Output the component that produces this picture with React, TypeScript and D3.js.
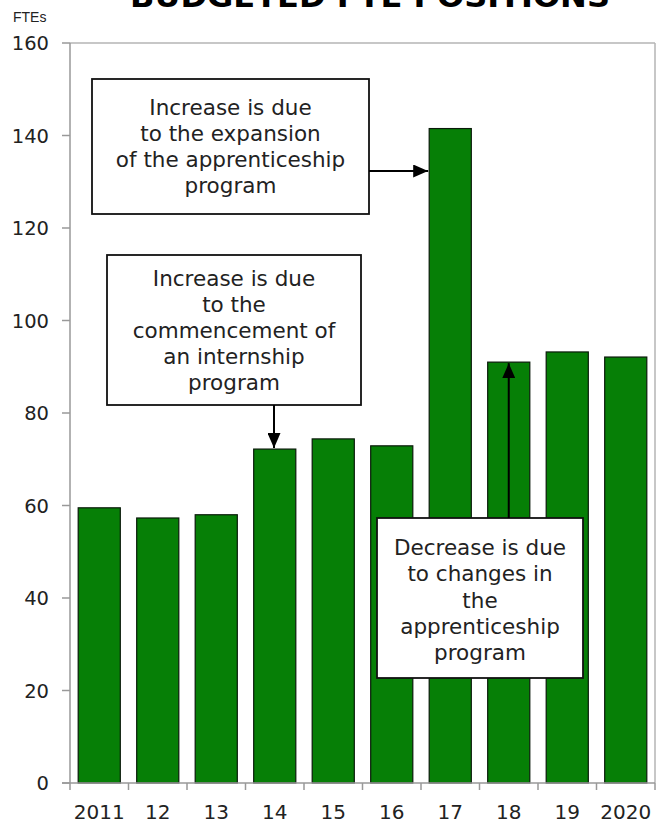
import React from "react";
import * as d3 from "d3";

const categories = ["2011", "12", "13", "14", "15", "16", "17", "18", "19", "2020"];
const ftes = [59.5, 57.3, 58, 72.2, 74.4, 72.9, 141.5, 91, 93.2, 92.1];
const yTicks = [0, 20, 40, 60, 80, 100, 120, 140, 160];

const note1 = ["Increase is due", "to the expansion", "of the apprenticeship", "program"];
const note2 = ["Increase is due", "to the", "commencement of", "an internship", "program"];
const note3 = ["Decrease is due", "to changes in", "the", "apprenticeship", "program"];

const W = 663;
const H = 823;
const M = { left: 70, right: 655, top: 43, bottom: 783 };
const FONT = "'DejaVu Sans', Verdana, sans-serif";

export default function App() {
  const x = d3.scaleBand<string>().domain(categories).range([M.left, M.right]).paddingInner(0.28).paddingOuter(0.14);
  const y = d3.scaleLinear().domain([0, 160]).range([M.bottom, M.top]);
  const boundaries = d3.range(categories.length + 1).map((i) => M.left + i * ((M.right - M.left) / categories.length));

  const box = (bx: number, by: number, bw: number, bh: number, lines: string[], firstY: number, lh: number) => (
    <g>
      <rect x={bx} y={by} width={bw} height={bh} fill="#fff" stroke="#111" strokeWidth={1.8} />
      {lines.map((l, i) => (
        <text key={i} x={bx + bw / 2} y={firstY + i * lh} textAnchor="middle" fontFamily={FONT} fontSize={21.5} fill="#222">
          {l}
        </text>
      ))}
    </g>
  );

  const c17 = categories.indexOf("17");
  const c14 = categories.indexOf("14");
  const c18 = categories.indexOf("18");
  const cx = (c: string) => (x(c) as number) + x.bandwidth() / 2;

  return (
    <svg width={W} height={H} style={{ position: "absolute", left: 0, top: 0, background: "#fff" }}>
      <defs>
        <marker id="arr" viewBox="0 0 15 13" refX="15" refY="6.5" markerWidth="15" markerHeight="13" orient="auto" markerUnits="userSpaceOnUse">
          <path d="M0,0 L15,6.5 L0,13 z" fill="#000" />
        </marker>
      </defs>
      <text x={370} y={7} textAnchor="middle" fontFamily={FONT} fontWeight="bold" fontSize={30} textLength={480} lengthAdjust="spacingAndGlyphs" fill="#000">
        BUDGETED FTE POSITIONS
      </text>
      <text x={13} y={22} fontFamily="'Liberation Sans', Arial, sans-serif" fontSize={14} fill="#222">FTEs</text>

      {/* plot border */}
      <line x1={M.left} x2={M.right} y1={M.top} y2={M.top} stroke="#b5b5b5" strokeWidth={1.5} />
      <line x1={M.right} x2={M.right} y1={M.top} y2={M.bottom} stroke="#b5b5b5" strokeWidth={1.5} />

      {/* bars */}
      {categories.map((c, i) => (
        <rect key={c} x={x(c)} y={y(ftes[i])} width={x.bandwidth()} height={y(0) - y(ftes[i])} fill="#067f06" stroke="#0a1a0a" strokeWidth={1.2} />
      ))}

      {/* y axis */}
      <line x1={M.left} x2={M.left} y1={M.top} y2={M.bottom} stroke="#999" strokeWidth={1.5} />
      {yTicks.map((t) => (
        <g key={t}>
          <line x1={M.left - 8} x2={M.left} y1={y(t)} y2={y(t)} stroke="#999" strokeWidth={1.5} />
          <text x={M.left - 21} y={y(t) + 7} textAnchor="end" fontFamily={FONT} fontSize={19.5} fill="#222">{t}</text>
        </g>
      ))}

      {/* x axis */}
      <line x1={M.left - 8} x2={M.right} y1={M.bottom} y2={M.bottom} stroke="#999" strokeWidth={1.5} />
      {boundaries.map((b, i) => (
        <line key={i} x1={b} x2={b} y1={M.bottom} y2={M.bottom + 7} stroke="#999" strokeWidth={1.5} />
      ))}
      {categories.map((c) => (
        <text key={c} x={cx(c)} y={819} textAnchor="middle" fontFamily={FONT} fontSize={20} fill="#222">{c}</text>
      ))}

      {/* annotations */}
      {box(92, 79, 277, 135, note1, 115, 26)}
      <line x1={369} y1={171} x2={(x(categories[c17]) as number) - 1} y2={171} stroke="#000" strokeWidth={2} markerEnd="url(#arr)" />

      {box(107, 255, 254, 150, note2, 286, 26)}
      <line x1={274} y1={405} x2={274} y2={y(ftes[c14]) - 1} stroke="#000" strokeWidth={2} markerEnd="url(#arr)" />

      {box(377, 518, 206, 160, note3, 555, 26.3)}
      <line x1={cx(categories[c18])} y1={518} x2={cx(categories[c18])} y2={y(ftes[c18]) + 1} stroke="#000" strokeWidth={2} markerEnd="url(#arr)" />
    </svg>
  );
}
